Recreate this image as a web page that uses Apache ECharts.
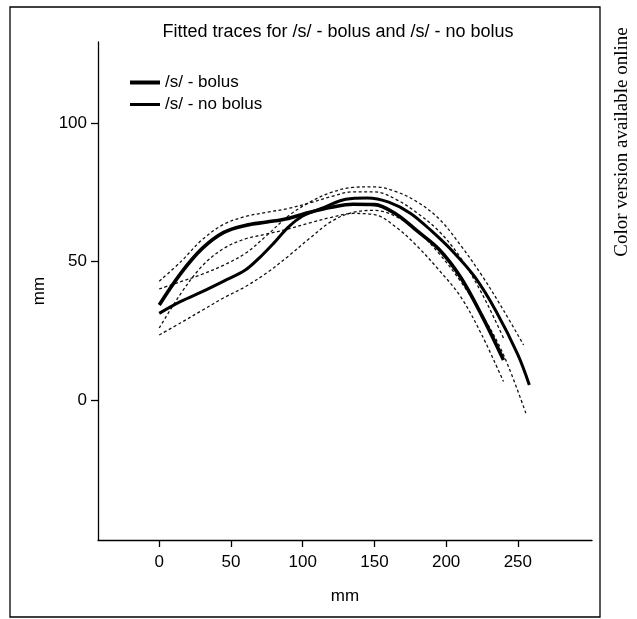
<!DOCTYPE html>
<html><head><meta charset="utf-8">
<script src="https://cdn.jsdelivr.net/npm/echarts@6/dist/echarts.min.js"></script>
<style>html,body{margin:0;padding:0;background:#fff}#c{width:637px;height:619px}</style>
</head><body><div id="c"></div>
<script>
const titleText = 'Fitted traces for /s/ - bolus and /s/ - no bolus';
const sideNote = 'Color version available online';
const seriesNames = ['/s/ - bolus', '/s/ - no bolus'];
const axisNameX = 'mm';
const axisNameY = 'mm';
const xTicks = [0, 50, 100, 150, 200, 250];
const yTicks = [0, 50, 100];

// /s/ - bolus fitted trace and its dashed band
const bolusX     = [0, 15, 30, 45, 60, 75, 90, 105, 120, 135, 150, 165, 180, 195, 210, 225, 240];
const bolusY     = [34.4, 45.8, 54.8, 60.6, 63.1, 64.3, 65.6, 67.8, 69.6, 70.7, 70.6, 67.2, 61.0, 54.5, 44.5, 30.5, 14.6];
const bolusUpper = [43.0, 50.0, 58.0, 63.5, 66.3, 67.8, 69.2, 71.2, 73.5, 75.2, 75.2, 72.5, 67.5, 61.0, 51.5, 38.5, 22.5];
const bolusLower = [26.1, 38.5, 48.5, 54.8, 58.2, 60.0, 61.8, 64.0, 66.0, 67.4, 67.0, 62.5, 55.5, 47.0, 37.5, 23.5, 6.8];

// /s/ - no bolus fitted trace and its dashed band
const noBolusX = [0, 15, 30, 45, 60, 70, 80, 90, 100, 115, 130, 145, 160, 175, 190, 205, 220, 235, 250, 258];
const noBolusY = [31.4, 35.7, 39.2, 43.0, 47.0, 51.5, 56.8, 62.5, 66.5, 69.6, 72.5, 73.0, 71.5, 67.5, 61.0, 53.5, 44.5, 32.0, 16.5, 5.6];
const noBolusUpperX = [0, 15, 30, 45, 60, 75, 90, 105, 120, 135, 150, 165, 180, 195, 210, 225, 240, 254];
const noBolusUpper  = [40.2, 42.8, 45.5, 48.8, 53.0, 59.5, 66.5, 71.5, 75.0, 76.8, 77.0, 75.3, 71.5, 65.5, 56.0, 45.0, 32.5, 20.0];
const noBolusLowerX = [0, 15, 30, 45, 60, 75, 90, 105, 120, 135, 150, 165, 180, 195, 210, 225, 240, 256];
const noBolusLower  = [23.6, 28.0, 32.5, 37.0, 41.0, 46.0, 52.0, 58.5, 64.5, 67.8, 68.5, 66.3, 61.0, 53.0, 43.0, 31.0, 16.5, -5.2];

const pair = (xs, ys) => xs.map((x, i) => [x, ys[i]]);
const FONT = '"Liberation Sans", Arial, Helvetica, sans-serif';
// legend icons: a horizontal bar inside a 30x14 box (tiny corner specks fix the box)
const iconThick = 'path://M0,0h0.01v0.01h-0.01z M0,5h30v4h-30z M29.99,13.99h0.01v0.01h-0.01z';
const iconThin  = 'path://M0,0h0.01v0.01h-0.01z M0,5.6h30v2.8h-30z M29.99,13.99h0.01v0.01h-0.01z';

const dashed = (name, data) => ({
  name, type: 'line', data, smooth: 0.35, showSymbol: false, symbol: 'none', z: 2,
  lineStyle: { color: '#111', width: 1.3, type: [3, 2.5] }, silent: true
});

const chart = echarts.init(document.getElementById('c'), null, { renderer: 'canvas' });
chart.setOption({
  animation: false,
  backgroundColor: '#fff',
  title: {
    text: titleText, left: 338, top: 23, textAlign: 'center', padding: 0,
    textStyle: { fontSize: 18, fontWeight: 'normal', color: '#000', fontFamily: FONT }
  },
  legend: {
    data: [{ name: seriesNames[0], icon: iconThick }, { name: seriesNames[1], icon: iconThin }],
    orient: 'vertical', left: 130, top: 74, padding: 0,
    itemWidth: 30, itemHeight: 14, itemGap: 5,
    itemStyle: { color: '#000' },
    textStyle: { fontSize: 17, color: '#000', fontFamily: FONT, lineHeight: 17 }
  },
  grid: { left: 98, right: 45, top: 42, bottom: 79, containLabel: false },
  xAxis: {
    type: 'value', min: -42.7, max: 301.7,
    name: axisNameX, nameLocation: 'middle', nameGap: 48,
    nameTextStyle: { fontSize: 17, color: '#000', fontFamily: FONT },
    axisLine: { show: true, onZero: false, lineStyle: { color: '#000', width: 1.3 } },
    axisTick: { show: true, customValues: xTicks, length: 7, inside: false, lineStyle: { color: '#000', width: 1.3 } },
    axisLabel: { customValues: xTicks, margin: 14, fontSize: 17, color: '#000', fontFamily: FONT },
    splitLine: { show: false }
  },
  yAxis: {
    type: 'value', min: -50.3, max: 129.2,
    name: axisNameY, nameLocation: 'middle', nameGap: 44, nameRotate: 90,
    nameTextStyle: { fontSize: 17, color: '#000', fontFamily: FONT },
    axisLine: { show: true, onZero: false, lineStyle: { color: '#000', width: 1.3 } },
    axisTick: { show: true, customValues: yTicks, length: 7, inside: false, lineStyle: { color: '#000', width: 1.3 } },
    axisLabel: { customValues: yTicks, margin: 11, fontSize: 17, color: '#000', fontFamily: FONT },
    splitLine: { show: false }
  },
  series: [
    dashed('bolus upper', pair(bolusX, bolusUpper)),
    dashed('bolus lower', pair(bolusX, bolusLower)),
    dashed('no bolus upper', pair(noBolusUpperX, noBolusUpper)),
    dashed('no bolus lower', pair(noBolusLowerX, noBolusLower)),
    { name: seriesNames[0], type: 'line', data: pair(bolusX, bolusY), smooth: 0.35, showSymbol: false, symbol: 'none', z: 3,
      lineStyle: { color: '#000', width: 3.6 }, itemStyle: { color: '#000' } },
    { name: seriesNames[1], type: 'line', data: pair(noBolusX, noBolusY), smooth: 0.35, showSymbol: false, symbol: 'none', z: 3,
      lineStyle: { color: '#000', width: 3 }, itemStyle: { color: '#000' } }
  ],
  graphic: [
    { type: 'rect', shape: { x: 10, y: 7, width: 590, height: 610 }, silent: true,
      style: { fill: 'none', stroke: '#000', lineWidth: 1.3 } },
    { type: 'text', x: 622, y: 142, rotation: Math.PI / 2, silent: true,
      style: { text: sideNote, fontSize: 19, fontFamily: '"Liberation Serif", "Times New Roman", serif', fill: '#000',
               textAlign: 'center', textVerticalAlign: 'middle' } }
  ]
});
</script></body></html>
